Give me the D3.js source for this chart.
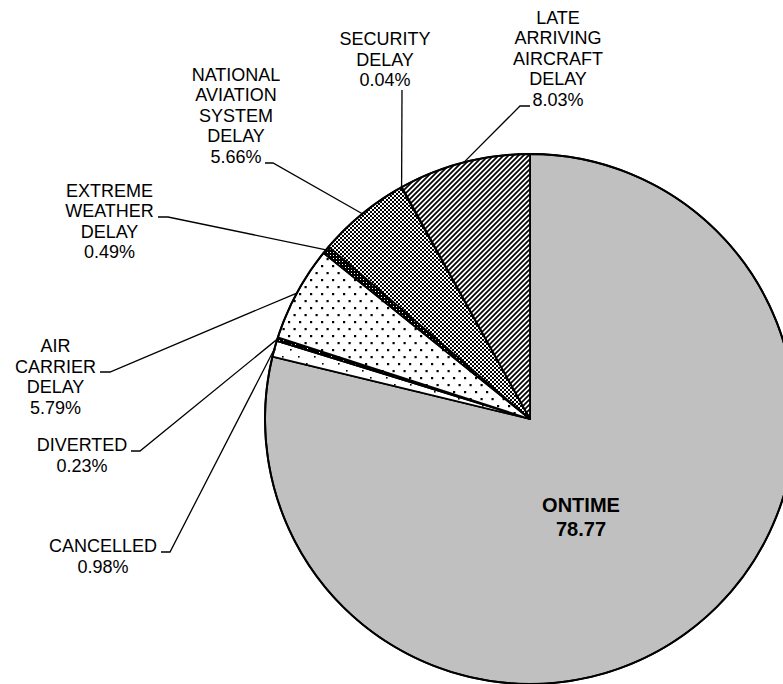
<!DOCTYPE html>
<html>
<head>
<meta charset="utf-8">
<script src="https://cdn.jsdelivr.net/npm/d3@7"></script>
<style>
  html, body { margin: 0; padding: 0; background: #fff; }
  svg { display: block; }
  text { font-family: "Liberation Sans", Arial, sans-serif; fill: #000; }
</style>
</head>
<body>
<svg id="chart" width="783" height="684"></svg>
<script>
// ---- data ----
const categories = ["ONTIME", "CANCELLED", "DIVERTED", "AIR CARRIER DELAY", "EXTREME WEATHER DELAY",
                    "NATIONAL AVIATION SYSTEM DELAY", "SECURITY DELAY", "LATE ARRIVING AIRCRAFT DELAY"];
const values = [78.77, 0.98, 0.23, 5.79, 0.49, 5.66, 0.04, 8.03];
const labelLines = [
  ["ONTIME", "78.77"],
  ["CANCELLED", "0.98%"],
  ["DIVERTED", "0.23%"],
  ["AIR", "CARRIER", "DELAY", "5.79%"],
  ["EXTREME", "WEATHER", "DELAY", "0.49%"],
  ["NATIONAL", "AVIATION", "SYSTEM", "DELAY", "5.66%"],
  ["SECURITY", "DELAY", "0.04%"],
  ["LATE", "ARRIVING", "AIRCRAFT", "DELAY", "8.03%"]
];

// ---- layout (not data) ----
const cx = 530, cy = 419, R = 265;
const lineH = 20.6;
// text centre x, first baseline y, leader: horizontal start/end and y (null = none)
const labelLayout = [
  {x: 581, y: 512, bold: true},
  {x: 103, y: 552, lead: {x0: 161, x1: 170, y: 552}},
  {x: 82, y: 451, lead: {x0: 131, x1: 140, y: 451}},
  {x: 55.5, y: 352, lead: {x0: 100, x1: 110, y: 372}},
  {x: 109.5, y: 196.5, lead: {x0: 158, x1: 168, y: 217}},
  {x: 236, y: 80.6, lead: {x0: 265, x1: 273, y: 163}},
  {x: 385, y: 45, vlead: {x: 402, y: 90}},
  {x: 558, y: 23.5, lead: {x0: 530, x1: 520, y: 106}}
];
const fills = ["#c0c0c0", "url(#pCancel)", "url(#pDiv)", "url(#pAir)", "url(#pWx)",
               "url(#pNas)", "#000", "url(#pLate)"];

const svg = d3.select("#chart");
const defs = svg.append("defs");

function pattern(id, w, h, bg) {
  const p = defs.append("pattern").attr("id", id).attr("patternUnits", "userSpaceOnUse")
    .attr("width", w).attr("height", h);
  p.append("rect").attr("width", w).attr("height", h).attr("fill", bg);
  return p;
}
// cancelled: sparse dots
let p = pattern("pCancel", 16, 14, "#fff");
p.append("rect").attr("x", 0).attr("y", 0).attr("width", 1.6).attr("height", 1.6).attr("fill", "#000");
p.append("rect").attr("x", 8).attr("y", 7).attr("width", 1.6).attr("height", 1.6).attr("fill", "#000");
// diverted: nearly black
p = pattern("pDiv", 4, 4, "#000");
p.append("rect").attr("x", 1).attr("y", 1).attr("width", 1).attr("height", 1).attr("fill", "#fff");
// air carrier: dot grid
p = pattern("pAir", 11, 14, "#fff");
p.append("rect").attr("x", 0).attr("y", 0).attr("width", 2.2).attr("height", 2.2).attr("fill", "#000");
p.append("rect").attr("x", 5.5).attr("y", 7).attr("width", 2.2).attr("height", 2.2).attr("fill", "#000");
// extreme weather: dense dark
p = pattern("pWx", 3, 3, "#000");
p.append("rect").attr("x", 1).attr("y", 1).attr("width", 1).attr("height", 1).attr("fill", "#fff");
// NAS: checkerboard
p = pattern("pNas", 4, 4, "#fff");
p.append("rect").attr("x", 0).attr("y", 0).attr("width", 2).attr("height", 2).attr("fill", "#000");
p.append("rect").attr("x", 2).attr("y", 2).attr("width", 2).attr("height", 2).attr("fill", "#000");
// late aircraft: forward diagonal lines
p = pattern("pLate", 5, 5, "#fff");
p.append("path").attr("d", "M-1,6 L6,-1 M-1,1 L1,-1 M4,6 L6,4")
  .attr("stroke", "#000").attr("stroke-width", 1.7).attr("fill", "none");

const data = categories.map((c, i) => ({name: c, value: values[i], i}));
const pie = d3.pie().sort(null).value(d => d.value).startAngle(0).endAngle(2 * Math.PI);
const arcs = pie(data);
const arc = d3.arc().innerRadius(0).outerRadius(R);
const edge = d3.arc().innerRadius(R).outerRadius(R);

const g = svg.append("g").attr("transform", `translate(${cx},${cy})`);
g.selectAll("path.slice").data(arcs).enter().append("path")
  .attr("class", "slice")
  .attr("d", arc)
  .attr("fill", d => fills[d.data.i])
  .attr("stroke", "#000")
  .attr("stroke-width", 1.8)
  .attr("stroke-linejoin", "round");
g.append("circle").attr("r", R).attr("fill", "none").attr("stroke", "#000").attr("stroke-width", 2);

// leader lines
arcs.forEach(a => {
  const L = labelLayout[a.data.i];
  const [ex, ey] = edge.centroid(a);
  const px = cx + ex, py = cy + ey;
  if (L.lead) {
    svg.append("path")
      .attr("d", `M${L.lead.x0},${L.lead.y} L${L.lead.x1},${L.lead.y} L${px},${py}`)
      .attr("fill", "none").attr("stroke", "#000").attr("stroke-width", 1.3);
  } else if (L.vlead) {
    svg.append("path")
      .attr("d", `M${L.vlead.x},${L.vlead.y} L${px},${py}`)
      .attr("fill", "none").attr("stroke", "#000").attr("stroke-width", 1.3);
  }
});

// labels
arcs.forEach(a => {
  const L = labelLayout[a.data.i];
  const t = svg.append("text")
    .attr("text-anchor", "middle")
    .style("font-size", L.bold ? "20px" : "18px")
    .style("font-weight", L.bold ? "bold" : "normal");
  labelLines[a.data.i].forEach((s, k) => {
    t.append("tspan").attr("x", L.x).attr("y", L.y + k * (L.bold ? 24 : lineH)).text(s);
  });
});
</script>
</body>
</html>
